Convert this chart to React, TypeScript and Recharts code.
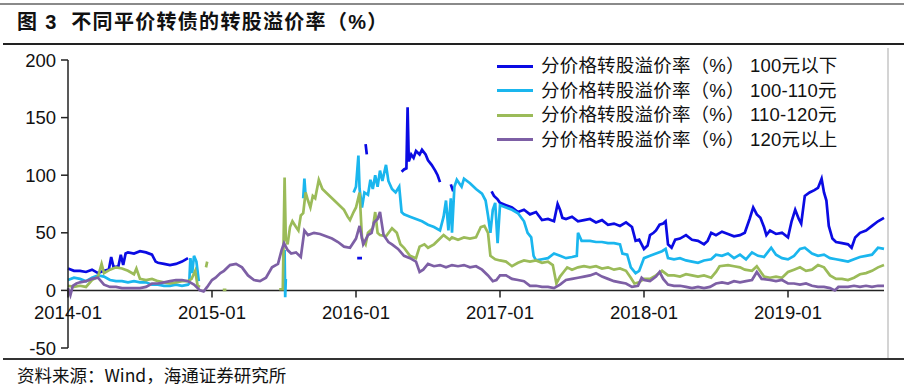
import React from 'react';
import { LineChart, Line, XAxis, YAxis, ReferenceLine } from 'recharts';

// t = months since 2014-01
const xTicks = [0, 12, 24, 36, 48, 60];
const xTickLabels = ['2014-01', '2015-01', '2016-01', '2017-01', '2018-01', '2019-01'];
const yTicks = [-50, 0, 50, 100, 150, 200];

const seriesNames = [
  '分价格转股溢价率（%） 100元以下',
  '分价格转股溢价率（%） 100-110元',
  '分价格转股溢价率（%） 110-120元',
  '分价格转股溢价率（%） 120元以上',
];
const seriesColors = ['#0b0be3', '#1ab6ee', '#9bbb59', '#7d5fa5'];

type P = [number, number | null];

const below100: P[] = [
  [0, 19], [0.5, 17], [1, 17], [1.5, 16], [2, 18], [2.5, 15], [3, 17], [3.4, 18], [3.6, 29], [3.8, 20],
  [4.2, 21], [4.4, 31], [4.6, 22], [4.8, 32], [5, 33], [5.5, 32], [6, 34], [6.5, 33], [7, 31], [7.3, 25],
  [7.5, 24], [8, 23], [8.5, 22], [9, 23], [9.5, 25], [10, 28], [10.1, null],
  [24.1, 28], [24.5, 28], [24.6, null],
  [24.8, 127], [24.9, 118], [25, null],
  [27.8, 103], [28.0, 105], [28.2, 106], [28.3, 159], [28.4, 112], [28.6, 118], [28.8, 115], [29, 121],
  [29.3, 118], [29.5, 122], [29.8, 118], [30, 113], [30.3, 109], [30.6, 104], [30.8, 100], [31, 94], [31.1, null],
  [31.9, 92], [32.1, 86], [32.2, null],
  [35.3, 86], [35.5, 82], [35.8, 79], [36, 76], [36.5, 74], [37, 72], [37.5, 68], [38, 70], [38.5, 66],
  [39, 68], [39.5, 61], [40, 62], [40.5, 60], [40.8, 75], [41, 70], [41.2, 63], [41.5, 62], [42, 64],
  [42.5, 60], [43, 61], [43.5, 62], [44, 59], [44.5, 61], [45, 57], [45.5, 58], [46, 56], [46.5, 59],
  [47, 55], [47.3, 43], [47.6, 44], [48, 36], [48.3, 39], [48.5, 48], [48.8, 50], [49, 52], [49.3, 57],
  [49.6, 58], [49.8, 60], [50, 40], [50.3, 37], [50.6, 44], [51, 45], [51.5, 48], [52, 44], [52.5, 43],
  [53, 40], [53.3, 43], [53.6, 50], [54, 48], [54.5, 51], [55, 49], [55.5, 47], [56, 48], [56.4, 50],
  [56.8, 62], [57.1, 72], [57.4, 66], [57.7, 63], [58, 55], [58.2, 48], [58.5, 52], [59, 49], [59.5, 50],
  [60, 46], [60.3, 60], [60.6, 70], [60.9, 62], [61.1, 58], [61.4, 82], [61.8, 85], [62.2, 87], [62.5, 89],
  [62.8, 97], [63, 85], [63.2, 78], [63.4, 56], [63.7, 45], [64, 42], [64.5, 41], [65, 40], [65.3, 37],
  [65.6, 46], [66, 50], [66.5, 52], [67, 56], [67.5, 60], [68, 63],
];

const from100to110: P[] = [
  [0, 9], [0.5, 11], [1, 10], [1.5, 8], [2, 11], [2.5, 13], [3, 12], [3.5, 9], [4, 8], [4.5, 8], [5, 7],
  [5.5, 8], [6, 7], [6.5, 7], [7, 5], [7.5, 5], [8, 4], [8.5, 4], [9, 5], [9.5, 4], [10, 5], [10.1, 6],
  [10.2, 28], [10.35, 15], [10.5, 30], [10.7, 25], [10.9, 8], [11, null],
  [18.05, 35], [18.1, -6], [18.15, 10], [18.2, null],
  [19.6, 80], [19.7, 97], [19.8, 82], [19.9, null],
  [23.8, 85], [24, 90], [24.2, 117], [24.3, 88], [24.5, 72], [24.7, 85], [25, 83], [25.2, 96], [25.4, 88],
  [25.6, 100], [25.8, 90], [26, 104], [26.2, 95], [26.5, 109], [26.7, 95], [27, 88], [27.3, 85], [27.6, 90],
  [27.8, 68], [28, 66], [28.5, 64], [29, 62], [29.5, 60], [30, 57], [30.5, 55], [31, 52], [31.3, 64],
  [31.5, 78], [31.7, 52], [31.9, 80], [32, 50], [32.2, 90], [32.4, 96], [32.8, 90], [33, 97], [33.5, 93],
  [34, 88], [34.5, 84], [34.8, 78], [35, 65], [35.2, 50], [35.4, 70], [35.6, 76], [35.8, 41], [36, 74],
  [36.5, 72], [37, 70], [37.5, 67], [38, 60], [38.3, 50], [38.6, 46], [38.8, 30], [39, 26], [39.5, 27],
  [40, 28], [40.5, 32], [41, 30], [41.5, 28], [42, 29], [42.4, 30], [42.5, 50], [42.8, 43], [43.5, 43],
  [44, 42], [44.5, 42], [45, 41], [45.5, 41], [46, 40], [46.2, 32], [46.6, 31], [46.9, 20], [47.3, 15],
  [47.6, 17], [48, 28], [48.5, 30], [49, 32], [49.5, 34], [49.8, 36], [50, 28], [50.5, 27], [51, 28],
  [51.5, 26], [52, 25], [52.5, 24], [53, 26], [53.6, 27], [54, 31], [54.5, 30], [55, 32], [55.5, 28],
  [56, 31], [56.5, 27], [57, 33], [57.5, 30], [58, 29], [58.6, 37], [59, 31], [59.5, 28], [60, 27],
  [60.5, 30], [61, 36], [61.4, 37], [62, 32], [62.5, 30], [63, 31], [63.5, 28], [64, 27], [64.5, 26],
  [65, 25], [65.5, 27], [66, 29], [66.5, 30], [67, 31], [67.5, 37], [68, 36],
];

const from110to120: P[] = [
  [0, 4], [0.5, 3], [1, 4], [1.5, 3], [2, 9], [2.5, 12], [2.8, 23], [3, 15], [3.5, 18], [4, 20], [4.5, 19],
  [5, 17], [5.5, 14], [5.7, 19], [6, 10], [6.5, 9], [7, 10], [7.5, 8], [8, 7], [8.5, 6], [9, 7], [9.5, 8],
  [10, 8], [10.3, 10], [10.6, 17], [10.8, 4], [11, 3], [11.2, null], [11.5, 20], [11.6, 25], [11.7, null],
  [12.9, 0.5], [13.2, 0.5], [13.3, null],
  [17.6, 1], [17.9, 1], [18.05, 98], [18.15, 45], [18.3, 40], [18.5, 55], [18.7, 60], [19, 55], [19.2, 52],
  [19.4, 65], [19.6, 67], [19.8, 85], [20, 78], [20.2, 72], [20.4, 82], [20.6, 80], [20.9, 96], [21.2, 88],
  [21.5, 85], [22, 80], [22.5, 75], [23, 70], [23.3, 64], [23.5, 61], [23.8, 68], [24, 72], [24.3, 85],
  [24.5, 45], [24.8, 40], [25, 50], [25.4, 54], [25.6, 68], [25.8, 50], [26, 48], [26.5, 47], [27, 54],
  [27.4, 50], [27.7, 40], [28, 37], [28.5, 30], [29, 28], [29.3, 38], [29.7, 40], [30, 37], [30.5, 40],
  [31, 45], [31.3, 48], [31.8, 44], [32, 46], [32.5, 44], [33, 46], [33.5, 45], [34, 46], [34.4, 55],
  [34.7, 56], [35, 50], [35.2, 30], [35.6, 27], [36, 26], [36.5, 25], [37, 21], [37.5, 24], [38, 26],
  [38.5, 25], [39, 26], [39.5, 24], [40, 25], [40.4, 22], [40.7, 6], [41, 12], [41.3, 16], [41.6, 20],
  [42, 18], [42.5, 20], [43, 21], [43.5, 20], [44, 21], [44.5, 19], [45, 20], [45.5, 18], [46, 19],
  [46.5, 17], [46.9, 11], [47.2, 6], [47.6, 7], [48, 10], [48.5, 10], [49, 13], [49.5, 17], [50, 13],
  [50.5, 13], [51, 12], [51.5, 14], [52, 13], [52.5, 12], [53, 13], [53.6, 11], [54, 16], [54.3, 21],
  [55, 22], [55.5, 21], [56, 20], [56.4, 18], [57, 17], [57.4, 21], [58, 12], [58.5, 11], [59, 12],
  [59.5, 11], [60, 16], [60.5, 18], [61, 20], [61.5, 17], [62, 18], [62.5, 22], [63, 20], [63.5, 13],
  [64, 10], [64.5, 10], [65, 9], [65.5, 11], [66, 14], [66.5, 15], [67, 17], [67.5, 20], [68, 22],
];

const above120: P[] = [
  [0, 2], [0.2, -4], [0.4, 4], [0.7, 6], [1, 7], [1.5, 8], [2, 10], [2.5, 11], [3, 5], [3.5, 3], [4, 3],
  [4.5, 2], [5, 2], [5.5, 2], [6, 2], [6.5, 3], [7, 6], [7.5, 6], [8, 7], [8.5, 8], [9, 9], [9.5, 9],
  [10, 8], [10.5, 5], [11, 0], [11.3, -1], [11.6, 3], [12, 9], [12.3, 11], [12.7, 15], [13, 17],
  [13.5, 22], [14, 23], [14.5, 20], [15, 13], [15.5, 9], [16, 8], [16.5, 11], [17, 20], [17.5, 23],
  [17.8, 35], [18, 41], [18.3, 35], [18.6, 32], [19, 33], [19.4, 29], [19.7, 52], [20, 48], [20.5, 50],
  [21, 49], [21.5, 47], [22, 45], [22.5, 42], [23, 38], [23.5, 37], [24, 45], [24.3, 56], [24.6, 40],
  [25, 48], [25.3, 50], [25.5, 59], [25.8, 62], [26, 68], [26.3, 48], [26.7, 42], [27, 40], [27.5, 36],
  [28, 30], [28.5, 28], [29, 25], [29.3, 16], [29.6, 18], [30, 23], [30.5, 21], [31, 22], [31.5, 20],
  [32, 22], [32.5, 21], [33, 22], [33.5, 20], [34, 21], [34.5, 18], [35, 13], [35.4, 8], [35.7, 9],
  [36, 13], [36.5, 13], [37, 10], [37.5, 9], [38, 8], [38.5, 4], [39, 4], [39.5, 3], [40, 3], [40.5, 2],
  [41, 5], [41.5, 9], [42, 10], [42.5, 11], [43, 12], [43.5, 13], [44, 15], [44.5, 12], [45, 10],
  [45.5, 8], [46, 7], [46.5, 6], [47, 3], [47.5, 4], [47.8, 11], [48, 9], [48.5, 8], [49, 12], [49.3, 16],
  [49.6, 10], [50, 5], [50.5, 4], [51, 4], [51.5, 3], [52, 2], [52.5, 3], [53, 2], [53.5, 3], [54, 6],
  [54.5, 7], [55, 6], [55.5, 8], [56, 7], [56.5, 8], [57, 9], [57.4, 16], [57.8, 10], [58.5, 9], [59, 8],
  [59.5, 9], [60, 6], [60.5, 6], [61, 5], [61.5, 6], [62, 4], [62.5, 3], [63, 3], [63.5, 2], [63.9, 0],
  [64.2, 3], [64.5, 3], [65, 3], [65.5, 4], [66, 3], [66.5, 4], [67, 3], [67.5, 4], [68, 4],
];

const allSeries = [below100, from100to110, from110to120, above120];

const W = 908;
const H = 387;
const PLOT_TOP = 60;
const PLOT_BOTTOM = 348;
const X_AXIS_H = 30;
const ZERO_Y = PLOT_TOP + (PLOT_BOTTOM - PLOT_TOP) * (200 / 250);

const FONT = '"Liberation Sans", Arial, "Noto Sans CJK SC", sans-serif';

const XTick = (props: any) => {
  const { x, payload } = props;
  const idx = xTicks.indexOf(payload.value);
  return (
    <g>
      <line x1={x} x2={x} y1={ZERO_Y} y2={ZERO_Y + 7} stroke="#222" strokeWidth={1.5} />
      <text x={x} y={ZERO_Y + 29} textAnchor="middle" fontSize={18.5} fill="#111" fontFamily={FONT}>
        {xTickLabels[idx]}
      </text>
    </g>
  );
};

const LegendBox = () => (
  <div
    style={{
      position: 'absolute', top: 54, left: 497, fontFamily: FONT, fontSize: 18.5, color: '#111',
      lineHeight: '24.5px', letterSpacing: 0.2,
    }}
  >
    {seriesNames.map((n, i) => (
      <div key={n} style={{ display: 'flex', alignItems: 'center', whiteSpace: 'pre', height: 24.5 }}>
        <span style={{ display: 'inline-block', width: 36, height: 3, background: seriesColors[i], marginRight: 8 }} />
        <span>{n}</span>
      </div>
    ))}
  </div>
);

export default function App() {
  return (
    <div style={{ position: 'absolute', left: 0, top: 0, width: W, height: H, background: '#fff', overflow: 'hidden' }}>
      <div style={{ position: 'absolute', left: 0, top: 3, width: 904, height: 2, background: '#8a8a8a' }} />
      <div
        style={{
          position: 'absolute', left: 17, top: 10, fontSize: 20, fontWeight: 'bold', color: '#111',
          fontFamily: FONT, whiteSpace: 'pre', letterSpacing: 1.3, lineHeight: '24px',
        }}
      >
        图 3  不同平价转债的转股溢价率（%）
      </div>
      <div style={{ position: 'absolute', left: 3, top: 43, width: 901, height: 1.5, background: '#222' }} />
      <div style={{ position: 'absolute', left: 887, top: 48, width: 1.5, height: 310, background: '#d4d4d4' }} />
      <div style={{ position: 'absolute', left: 3, top: 358, width: 901, height: 1.5, background: '#333' }} />
      <div
        style={{
          position: 'absolute', left: 17, top: 365, fontSize: 17.5, color: '#111', lineHeight: '20px',
          fontFamily: '"Noto Sans CJK SC", sans-serif', whiteSpace: 'pre',
        }}
      >
        资料来源：Wind，海通证券研究所
      </div>
      <div style={{ position: 'absolute', left: 0, top: 0 }}>
        <LineChart
          width={W}
          height={H}
          margin={{ top: PLOT_TOP, right: 24, bottom: H - PLOT_BOTTOM - X_AXIS_H, left: 8 }}
        >
          <XAxis
            type="number"
            dataKey="t"
            domain={[0, 68]}
            ticks={xTicks}
            height={X_AXIS_H}
            axisLine={false}
            tickLine={false}
            tick={<XTick />}
            allowDuplicatedCategory={false}
          />
          <YAxis
            type="number"
            domain={[-50, 200]}
            ticks={yTicks}
            width={60}
            tickSize={7}
            tickMargin={5}
            axisLine={{ stroke: '#222', strokeWidth: 1.5 }}
            tickLine={{ stroke: '#222', strokeWidth: 1.5 }}
            tick={{ fontSize: 18.5, fill: '#111', fontFamily: FONT }}
            interval={0}
          />
          <ReferenceLine y={0} stroke="#222" strokeWidth={1.5} />
          {allSeries.map((s, i) => (
            <Line
              key={seriesNames[i]}
              data={s.map(([t, v]) => ({ t, v }))}
              dataKey="v"
              name={seriesNames[i]}
              stroke={seriesColors[i]}
              strokeWidth={2.7}
              dot={false}
              activeDot={false}
              isAnimationActive={false}
              connectNulls={false}
              type="linear"
            />
          ))}
        </LineChart>
      </div>
      <LegendBox />
    </div>
  );
}
